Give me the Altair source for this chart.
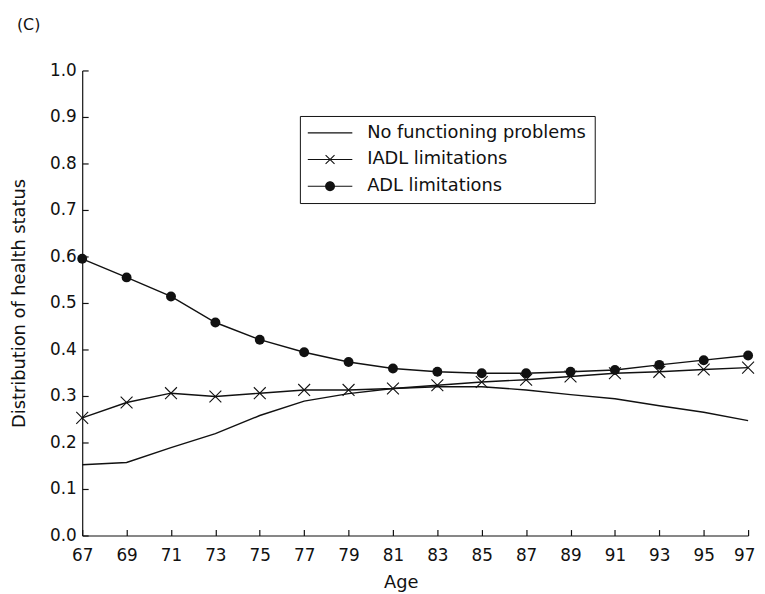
import altair as alt
import pandas as pd

# ---- data ----
AGES = [67, 69, 71, 73, 75, 77, 79, 81, 83, 85, 87, 89, 91, 93, 95, 97]
SERIES = ["No functioning problems", "IADL limitations", "ADL limitations"]
NO_PROB = [0.152, 0.157, 0.189, 0.219, 0.258, 0.289, 0.305, 0.316,
           0.320, 0.320, 0.313, 0.303, 0.294, 0.279, 0.265, 0.247]
IADL = [0.253, 0.286, 0.306, 0.299, 0.306, 0.313, 0.313, 0.316,
        0.323, 0.330, 0.335, 0.342, 0.349, 0.352, 0.357, 0.361]
ADL = [0.595, 0.555, 0.514, 0.458, 0.421, 0.394, 0.373, 0.359,
       0.352, 0.349, 0.349, 0.352, 0.356, 0.367, 0.377, 0.387]
Y_TICKS = [0.0, 0.1, 0.2, 0.3, 0.4, 0.5, 0.6, 0.7, 0.8, 0.9, 1.0]

rows = []
for name, vals in zip(SERIES, [NO_PROB, IADL, ADL]):
    for a, v in zip(AGES, vals):
        rows.append({"age": a, "value": v, "series": name})
df = pd.DataFrame(rows)

FONT = "DejaVu Sans"
INK = "#111111"

X_PATH = "M-1,-1L1,1M-1,1L1,-1"

# legend glyphs drawn as filled shapes (unit = 5 px)
LINE_GLYPH = "M-1.8,-0.12L7.2,-0.12L7.2,0.12L-1.8,0.12Z"
X_GLYPH = ("M1.878,-0.978L3.678,0.822L3.522,0.978L1.722,-0.822Z"
           "M1.878,0.978L1.722,0.822L3.522,-0.978L3.678,-0.822Z")
DOT_GLYPH = "M3.7,0A1,1,0,1,1,1.7,0A1,1,0,1,1,3.7,0Z"
LEGEND_PATHS = [LINE_GLYPH, LINE_GLYPH + X_GLYPH, LINE_GLYPH + DOT_GLYPH]

xscale = alt.Scale(domain=[AGES[0], AGES[-1]], nice=False, zero=False)
yscale = alt.Scale(domain=[0, 1], nice=False)

x_main = alt.Axis(orient="bottom", values=AGES, domain=True, domainColor=INK,
                  domainWidth=1.2, ticks=False, grid=False, labelFont=FONT,
                  labelFontSize=17, labelColor=INK, labelPadding=12,
                  labelOverlap=False, labelFlush=False,
                  labelOffset={"condition": {"test": "datum.value === 97",
                                             "value": -4}, "value": 0},
                  title="Age", titleFont=FONT, titleFontSize=18,
                  titleFontWeight="normal", titleColor=INK, titleX=322,
                  titleY=53, titleBaseline="alphabetic", titleAlign="center")
y_main = alt.Axis(orient="left", values=Y_TICKS, format=".1f", domain=True,
                  domainColor=INK, domainWidth=1.2, ticks=False, grid=False,
                  labelFont=FONT, labelFontSize=17, labelColor=INK,
                  labelPadding=6, labelOverlap=False, labelFlush=False,
                  title="Distribution of health status", titleFont=FONT,
                  titleFontSize=18, titleFontWeight="normal", titleColor=INK,
                  titleX=-58, titleY=235, titleAngle=-90,
                  titleBaseline="alphabetic", titleAlign="center")
x_tick = alt.Axis(orient="bottom", values=AGES, offset=-6, domain=False,
                  ticks=True, tickSize=6, tickColor=INK, tickWidth=1.2,
                  labels=False, grid=False, title=None)
y_tick = alt.Axis(orient="left", values=Y_TICKS, offset=-6, domain=False,
                  ticks=True, tickSize=6, tickColor=INK, tickWidth=1.2,
                  labels=False, grid=False, title=None)

base = alt.Chart(df)

lines = base.mark_line(color=INK, strokeWidth=1.4).encode(
    x=alt.X("age:Q", scale=xscale, axis=x_main),
    y=alt.Y("value:Q", scale=yscale, axis=y_main),
    detail="series:N",
)

circles = base.transform_filter(alt.datum.series == SERIES[2]).mark_point(
    shape="circle", filled=True, size=100, color=INK, opacity=1
).encode(
    x=alt.X("age:Q", scale=xscale, axis=x_tick),
    y=alt.Y("value:Q", scale=yscale, axis=y_tick),
)

crosses = base.transform_filter(alt.datum.series == SERIES[1]).mark_point(
    shape=X_PATH, filled=False, size=144, color=INK, strokeWidth=1.1, opacity=1
).encode(
    x=alt.X("age:Q", scale=xscale, axis=None),
    y=alt.Y("value:Q", scale=yscale, axis=None),
)

legend_layer = base.transform_filter("datum.value < 0").mark_point(
    filled=True, color=INK, opacity=1
).encode(
    x=alt.X("age:Q", scale=xscale, axis=None),
    y=alt.Y("value:Q", scale=yscale, axis=None),
    shape=alt.Shape(
        "series:N",
        scale=alt.Scale(domain=SERIES, range=LEGEND_PATHS),
        legend=alt.Legend(
            title=None, orient="none", legendX=220, legendY=46,
            strokeColor=INK, fillColor="white", padding=8, cornerRadius=0,
            labelFont=FONT, labelFontSize=18, labelColor=INK, labelLimit=400,
            rowPadding=9, labelOffset=42, symbolSize=100,
            symbolStrokeWidth=0, symbolFillColor=INK, symbolOpacity=1,
        ),
    ),
)

chart = alt.layer(lines, crosses, circles, legend_layer).resolve_axis(
    x="independent", y="independent"
).properties(
    width=673,
    height=470,
    autosize=alt.AutoSizeParams(type="none"),
    padding={"left": 75, "top": 60, "right": 9, "bottom": 56},
    title=alt.Title("(C)", anchor="start", frame="group", dx=-66, offset=13,
                    baseline="bottom", font=FONT, fontSize=16,
                    fontWeight="normal", color=INK),
).configure_view(stroke=None)

chart.save("out.html", embed_options={"renderer": "svg", "actions": False})
